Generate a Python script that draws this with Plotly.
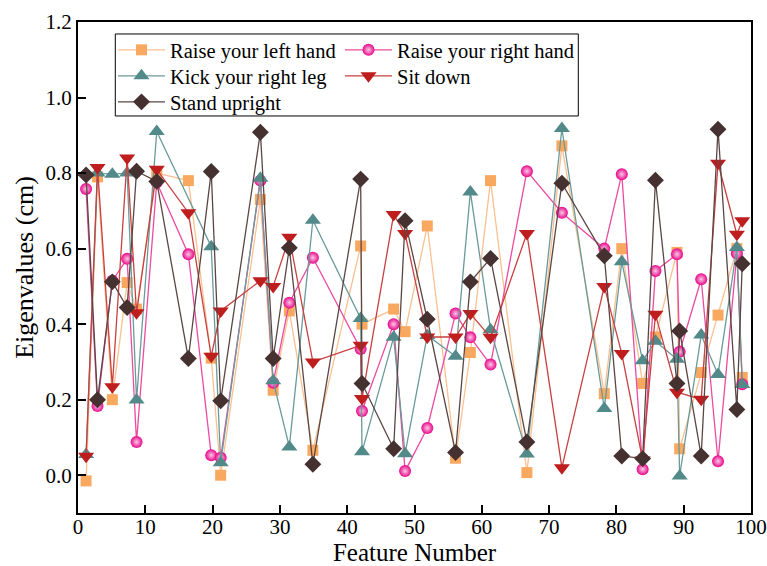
import plotly.graph_objects as go

feature = [1.2, 2.9, 5.1, 7.3, 8.7, 11.7, 16.4, 19.8, 21.2, 27.1, 29.0, 31.4, 34.9,
           42.0, 42.2, 46.9, 48.6, 51.9, 56.1, 58.3, 61.3, 66.7, 71.9, 78.2, 80.8,
           83.9, 85.8, 89.0, 89.4, 92.6, 95.1, 97.9, 98.7]

left_hand = [-0.015, 0.79, 0.20, 0.51, 0.44, 0.80, 0.78, 0.31, 0.0, 0.73, 0.225, 0.435, 0.066,
             0.607, 0.40, 0.44, 0.38, 0.66, 0.045, 0.325, 0.78, 0.007, 0.872, 0.216, 0.60,
             0.243, 0.366, 0.59, 0.07, 0.272, 0.424, 0.60, 0.259]

right_hand = [0.758, 0.183, 0.515, 0.573, 0.088, 0.775, 0.585, 0.053, 0.046, 0.78, 0.245, 0.457, 0.576,
              0.334, 0.17, 0.40, 0.011, 0.125, 0.428, 0.365, 0.293, 0.805, 0.695, 0.60, 0.797,
              0.016, 0.541, 0.585, 0.327, 0.519, 0.037, 0.587, 0.241]

kick_leg = [0.055, 0.80, 0.797, 0.80, 0.199, 0.91, None, 0.605, 0.033, 0.786, 0.25, 0.075, 0.675,
            0.415, 0.062, 0.365, 0.057, 0.37, 0.315, 0.75, 0.385, 0.056, 0.918, 0.177, 0.565,
            0.303, 0.355, 0.307, -0.002, 0.371, 0.267, 0.603, 0.24]

sit_down = [0.05, 0.815, 0.234, 0.84, 0.43, 0.81, 0.695, 0.315, 0.435, 0.515, 0.50, 0.63, 0.30,
            0.344, 0.203, 0.69, 0.64, 0.366, 0.366, 0.428, 0.365, 0.64, 0.02, 0.50, 0.322,
            0.04, 0.426, 0.22, None, 0.201, 0.826, 0.638, 0.674]

stand_up = [0.795, 0.20, 0.512, 0.444, 0.805, 0.778, 0.309, 0.804, 0.197, 0.908, 0.309, 0.602, 0.029,
            0.784, 0.243, 0.07, 0.674, 0.413, 0.06, 0.512, 0.574, 0.088, 0.773, 0.581, 0.051,
            0.044, 0.781, 0.243, 0.382, 0.051, 0.916, 0.174, 0.56]

# name, values, marker colour, line colour, symbol, size, gradient, legend slot
series = [
    ("Raise your left hand", left_hand, "#F9A860", "#FBC090", "square", 11, None, "legend2"),
    ("Raise your right hand", right_hand, "#E8068A", "#EC4A9F", "circle", 12, "#FBC8E4", "legend3"),
    ("Kick your right leg", kick_leg, "#528A8A", "#6A9A9A", "triangle-up", 14, None, "legend4"),
    ("Sit down", sit_down, "#BE1E1E", "#C84040", "triangle-down", 14, None, "legend5"),
    ("Stand upright", stand_up, "#443130", "#5A4644", "diamond", 13, None, "legend6"),
]

FONT = "Liberation Serif, Times New Roman, serif"
fig = go.Figure()
for name, vals, mcol, lcol, sym, size, grad, leg in series:
    xs = [f for f, v in zip(feature, vals) if v is not None]
    ys = [v for v in vals if v is not None]
    marker = dict(symbol=sym, size=size, color=mcol, line=dict(width=0))
    if grad:
        marker["gradient"] = dict(type="radial", color=grad)
    fig.add_trace(go.Scatter(x=xs, y=ys, mode="lines+markers", name=name, legend=leg,
                             showlegend=True,
                             line=dict(color=lcol, width=1.3), marker=marker))

axis_common = dict(showline=True, linecolor="black", linewidth=2, mirror=True,
                   ticks="inside", ticklen=8, tickwidth=1.5, tickcolor="black",
                   showgrid=False, zeroline=False,
                   tickfont=dict(family=FONT, size=21, color="black"))
fig.update_xaxes(range=[0, 100], dtick=10, tick0=0, ticklabelstandoff=-6,
                 title=dict(text="Feature Number", font=dict(family=FONT, size=25, color="black"), standoff=8),
                 **axis_common)
fig.update_yaxes(range=[-0.1, 1.2], dtick=0.2, tick0=0, tickformat=".1f",
                 title=dict(text="Eigenvalues (cm)", font=dict(family=FONT, size=26, color="black"), standoff=4),
                 **axis_common)

leg_common = dict(orientation="v", yanchor="top", xanchor="left",
                  bgcolor="rgba(0,0,0,0)", borderwidth=0,
                  font=dict(family=FONT, size=20.5, color="black"),
                  itemwidth=47, tracegroupgap=0)
col1, col2 = 0.052, 0.3893
row1, row2, row3 = 0.9837, 0.9308, 0.8778
fig.update_layout(
    width=767, height=566,
    margin=dict(l=78, r=16, t=22, b=53, autoexpand=False),
    plot_bgcolor="white", paper_bgcolor="white",
    font=dict(family=FONT, color="black"),
    showlegend=True,
    legend2=dict(x=col1, y=row1, **leg_common),
    legend3=dict(x=col2, y=row1, **leg_common),
    legend4=dict(x=col1, y=row2, **leg_common),
    legend5=dict(x=col2, y=row2, **leg_common),
    legend6=dict(x=col1, y=row3, **leg_common),
    shapes=[dict(type="rect", xref="paper", yref="paper", x0=0.0554, x1=0.7434,
                 y0=0.8086, y1=0.9756, line=dict(color="black", width=1),
                 fillcolor="white", layer="above")],
)
fig.write_html("out.html")
